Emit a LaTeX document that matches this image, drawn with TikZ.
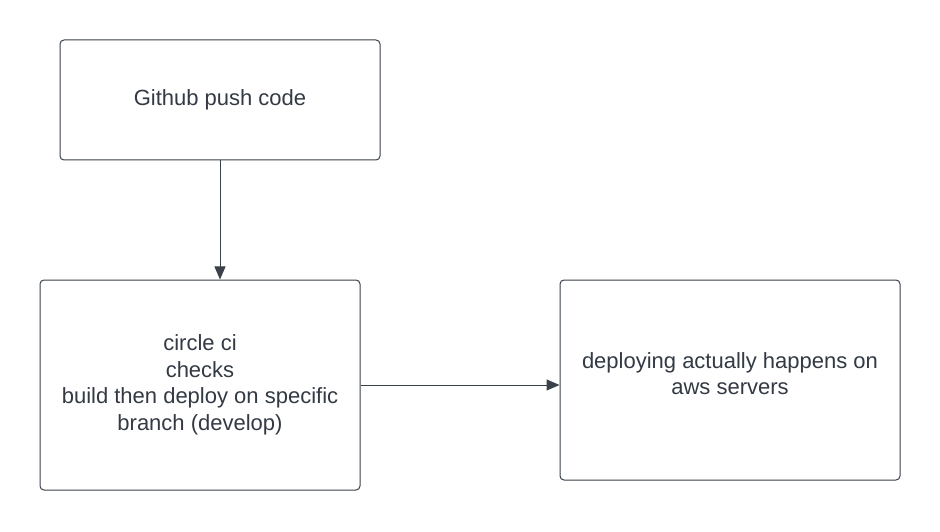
\documentclass[tikz,border=0pt]{standalone}
\usepackage{fontspec}
\setmainfont{Liberation Sans}
\usetikzlibrary{arrows.meta}
\definecolor{edge}{HTML}{3A414A}
\definecolor{txt}{HTML}{333A44}
\tikzset{
  box/.style={draw=edge, line width=1pt, rounded corners=4pt, align=center, text=txt,
    font=\fontsize{22}{26.5}\selectfont, inner sep=0pt},
  conn/.style={draw=edge, line width=1pt, -{Triangle[length=13pt,width=11pt]}}
}
\begin{document}
\begin{tikzpicture}[x=1pt,y=1pt]
\useasboundingbox (0,0) rectangle (940,531);
\fill[white] (0,0) rectangle (940,531);
\node[box, minimum width=320pt, minimum height=120pt] (a) at (220,431) {Github push code};
\node[box, minimum width=320pt, minimum height=210pt] (b) at (200,146) {circle ci\\checks\\build then deploy on specific\\branch (develop)};
\node[box, minimum width=340pt, minimum height=200pt, inner ysep=0pt] (c) at (730,151) {\rule[-14pt]{0pt}{0pt}deploying actually happens on\\aws servers\rule[-13pt]{0pt}{13pt}};
\draw[conn] (a.south) -- (a.south |- b.north);
\draw[conn] (b.east |- 0,146) -- (c.west |- 0,146);
\end{tikzpicture}
\end{document}
